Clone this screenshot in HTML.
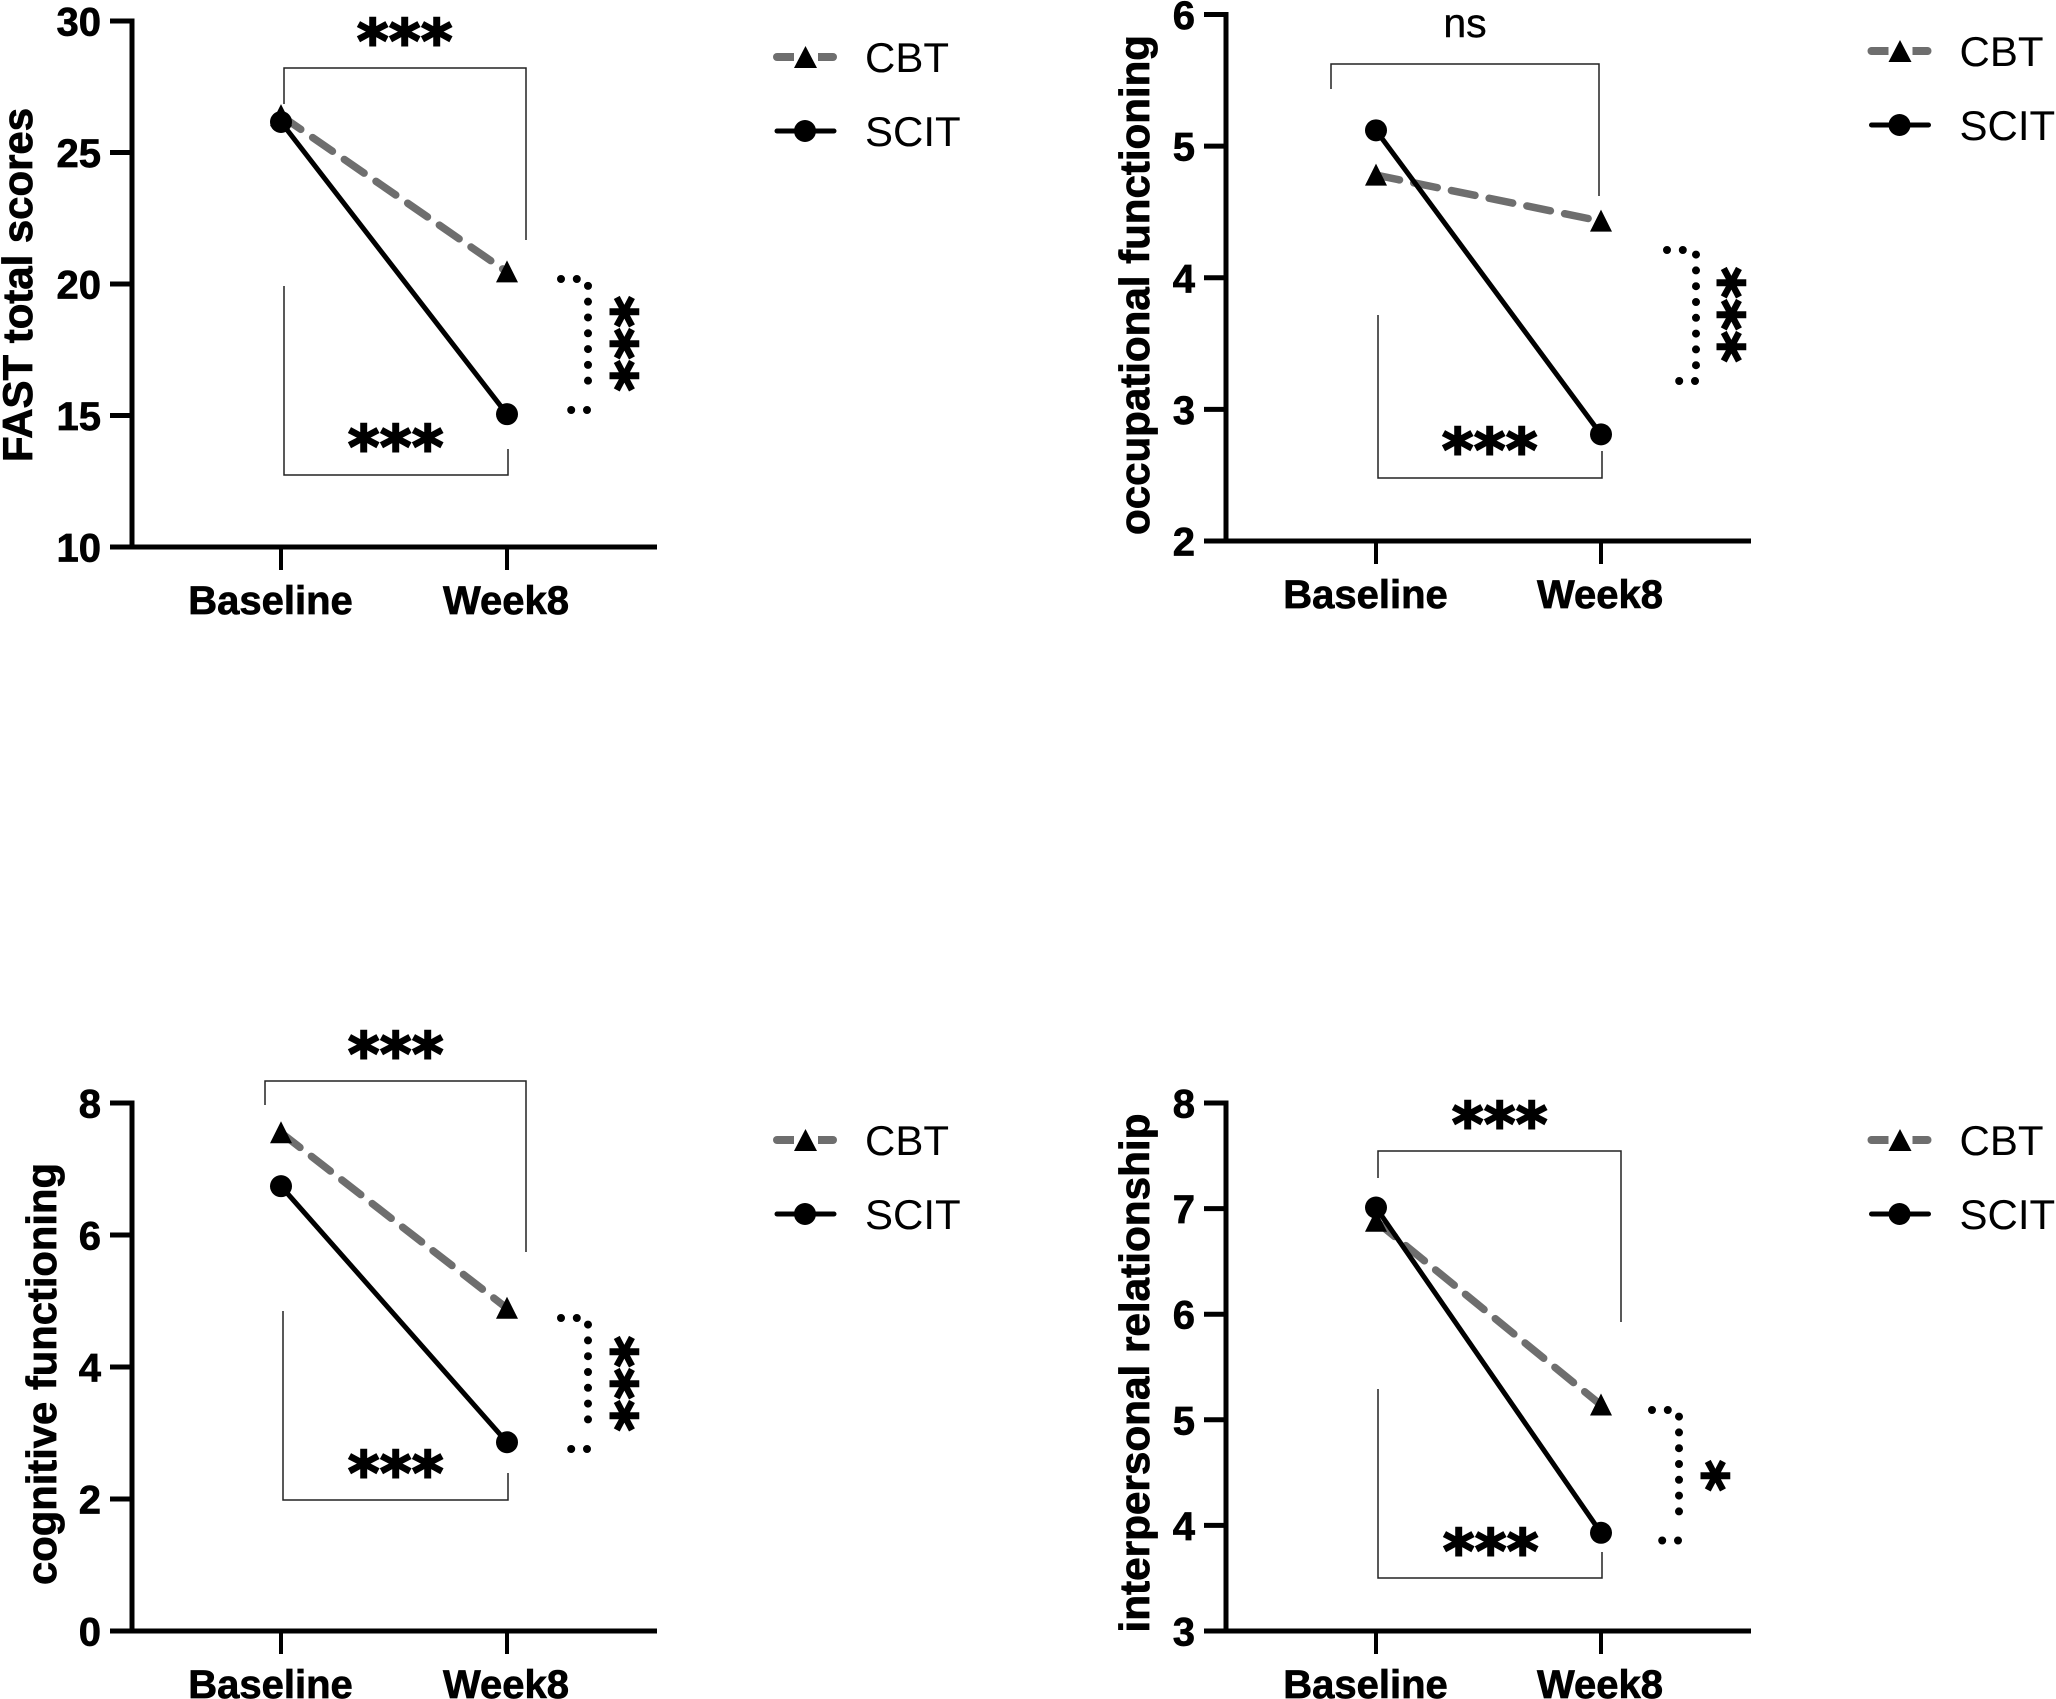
<!DOCTYPE html>
<html lang="en">
<head>
<meta charset="utf-8">
<title>CBT vs SCIT outcomes</title>
<style>
html,body{margin:0;padding:0;background:#fff;}
svg{display:block;}
text{font-family:"Liberation Sans",Arial,sans-serif;fill:#000;}
.tick{font-weight:700;font-size:40px;stroke:#000;stroke-width:0.7px;}
.title{font-weight:700;font-size:42px;stroke:#000;stroke-width:0.8px;}
.leg{font-size:42px;}
.stars{font-family:"DejaVu Sans",sans-serif;font-weight:700;font-size:60px;letter-spacing:0.6px;stroke:#000;stroke-width:2px;}
.br{fill:none;stroke:#222;stroke-width:1.5;}
.dots{fill:none;stroke:#000;stroke-width:8;stroke-linecap:round;stroke-dasharray:0 15.8;}
</style>
</head>
<body>
<svg id="chart" xmlns="http://www.w3.org/2000/svg" width="2056" height="1699" viewBox="0 0 2056 1699">
<rect width="2056" height="1699" fill="#fff"/>

<!-- Panel 1 annotations -->
<g>
<path class="br" d="M284 104V68H526V240"/>
<path class="br" d="M284 286V475H508V449"/>
<text class="stars" x="405" y="62" text-anchor="middle">***</text>
<text class="stars" x="396" y="468" text-anchor="middle">***</text>
<path class="dots" d="M561 279H581Q588 279 588 284V396"/>
<path class="dots" d="M587 410H571"/>
<text class="stars" x="625" y="375" text-anchor="middle" transform="rotate(90 625 344)">***</text>
</g>

<!-- Panel 2 annotations -->
<g>
<path class="br" d="M1331 89V64H1599V196"/>
<path class="br" d="M1378 315V478H1602V451"/>
<text x="1465" y="37" text-anchor="middle" font-size="41" stroke="#000" stroke-width="0.4">ns</text>
<text class="stars" x="1490" y="471" text-anchor="middle">***</text>
<path class="dots" d="M1667 250H1689Q1696 250 1696 254V368"/>
<path class="dots" d="M1695 381H1679"/>
<text class="stars" x="1732" y="346" text-anchor="middle" transform="rotate(90 1732 315)">***</text>
</g>

<!-- Panel 3 annotations -->
<g>
<path class="br" d="M265 1105V1081H526V1252"/>
<path class="br" d="M283 1311V1500H508V1473"/>
<text class="stars" x="396" y="1075" text-anchor="middle">***</text>
<text class="stars" x="396" y="1494" text-anchor="middle">***</text>
<path class="dots" d="M561 1318H581Q588 1318 588 1322V1435"/>
<path class="dots" d="M587 1449H571"/>
<text class="stars" x="625" y="1415" text-anchor="middle" transform="rotate(90 625 1384)">***</text>
</g>

<!-- Panel 4 annotations -->
<g>
<path class="br" d="M1378 1178V1151H1621V1322"/>
<path class="br" d="M1378 1389V1578H1602V1552"/>
<text class="stars" x="1500" y="1145" text-anchor="middle">***</text>
<text class="stars" x="1491" y="1572" text-anchor="middle">***</text>
<path class="dots" d="M1652 1410H1672Q1679 1410 1679 1414V1527"/>
<path class="dots" d="M1678 1540.5H1662"/>
<text class="stars" x="1716" y="1507" text-anchor="middle" transform="rotate(90 1716 1476)">*</text>
</g>

<!-- Legends -->
<g transform="translate(0,0)">
<g><line x1="777" y1="57" x2="833" y2="57" stroke="#6e6e6e" stroke-width="8" stroke-linecap="round"/><rect x="794" y="50" width="24" height="14" fill="#fff"/><polygon points="805.5,46 817,68 794,68" fill="#000"/><text class="leg" x="865" y="72">CBT</text></g>
<g><line x1="777" y1="131" x2="834" y2="131" stroke="#000" stroke-width="5" stroke-linecap="round"/><circle cx="805" cy="131" r="11" fill="#000"/><text class="leg" x="865" y="146">SCIT</text></g>
</g>
<g transform="translate(1094.5,-6)">
<g><line x1="777" y1="57" x2="833" y2="57" stroke="#6e6e6e" stroke-width="8" stroke-linecap="round"/><rect x="794" y="50" width="24" height="14" fill="#fff"/><polygon points="805.5,46 817,68 794,68" fill="#000"/><text class="leg" x="865" y="72">CBT</text></g>
<g><line x1="777" y1="131" x2="834" y2="131" stroke="#000" stroke-width="5" stroke-linecap="round"/><circle cx="805" cy="131" r="11" fill="#000"/><text class="leg" x="865" y="146">SCIT</text></g>
</g>
<g transform="translate(0,1083)">
<g><line x1="777" y1="57" x2="833" y2="57" stroke="#6e6e6e" stroke-width="8" stroke-linecap="round"/><rect x="794" y="50" width="24" height="14" fill="#fff"/><polygon points="805.5,46 817,68 794,68" fill="#000"/><text class="leg" x="865" y="72">CBT</text></g>
<g><line x1="777" y1="131" x2="834" y2="131" stroke="#000" stroke-width="5" stroke-linecap="round"/><circle cx="805" cy="131" r="11" fill="#000"/><text class="leg" x="865" y="146">SCIT</text></g>
</g>
<g transform="translate(1094.5,1083)">
<g><line x1="777" y1="57" x2="833" y2="57" stroke="#6e6e6e" stroke-width="8" stroke-linecap="round"/><rect x="794" y="50" width="24" height="14" fill="#fff"/><polygon points="805.5,46 817,68 794,68" fill="#000"/><text class="leg" x="865" y="72">CBT</text></g>
<g><line x1="777" y1="131" x2="834" y2="131" stroke="#000" stroke-width="5" stroke-linecap="round"/><circle cx="805" cy="131" r="11" fill="#000"/><text class="leg" x="865" y="146">SCIT</text></g>
</g>
</svg>

<script>
const categories = ['Baseline', 'Week8'];

const fastTicks = [10, 15, 20, 25, 30];
const fastCBT = [26.4, 20.46];
const fastSCIT = [26.16, 15.05];

const occupationalTicks = [2, 3, 4, 5, 6];
const occupationalCBT = [4.78, 4.43];
const occupationalSCIT = [5.12, 2.81];

const cognitiveTicks = [0, 2, 4, 6, 8];
const cognitiveCBT = [7.55, 4.89];
const cognitiveSCIT = [6.74, 2.86];

const interpersonalTicks = [3, 4, 5, 6, 7, 8];
const interpersonalCBT = [6.88, 5.14];
const interpersonalSCIT = [7.01, 3.93];

const svgNS = 'http://www.w3.org/2000/svg';
const root = document.getElementById('chart');

function make(parent, tag, attrs, content) {
  const el = document.createElementNS(svgNS, tag);
  for (const k in attrs) el.setAttribute(k, attrs[k]);
  if (content !== undefined) el.textContent = content;
  parent.appendChild(el);
  return el;
}

function drawPanel(g, ticks, cbt, scit, title) {
  const domainMin = ticks[0];
  const domainMax = ticks[ticks.length - 1];
  const yScale = function (v) {
    return g.bottom - (v - domainMin) / (domainMax - domainMin) * (g.bottom - g.top);
  };
  const xScale = function (i) {
    return g.xFirst + i * (g.xLast - g.xFirst) / (categories.length - 1);
  };

  const panel = make(root, 'g', {});
  
  

  const yAxis = make(panel, 'line', {x1: g.axisX, x2: g.axisX, y1: g.top - 2.5, y2: g.bottom + 2.5, stroke: '#000', 'stroke-width': 5});
  
  

  const xAxis = make(panel, 'line', {x1: g.axisX - 22, x2: g.axisEnd, y1: g.bottom, y2: g.bottom, stroke: '#000', 'stroke-width': 5});
  
  

  ticks.forEach(function (t) {
    const y = yScale(t);
    const mark = make(panel, 'line', {x1: g.axisX - 22, x2: g.axisX, y1: y, y2: y, stroke: '#000', 'stroke-width': 5});
    
    
    const label = make(panel, 'text', {class: 'tick', x: g.axisX - 31, y: y + 14.5, 'text-anchor': 'end'}, String(t));
    
    
  });

  categories.forEach(function (c, i) {
    const x = xScale(i);
    const mark = make(panel, 'line', {x1: x, x2: x, y1: g.bottom, y2: g.bottom + 23, stroke: '#000', 'stroke-width': 4});
    
    
    const label = make(panel, 'text', {class: 'tick', x: x + (i === 0 ? -10.5 : -1), y: g.bottom + 67, 'text-anchor': 'middle'}, c);
    
    
  });

  const yTitle = make(panel, 'text', {
    class: 'title', 'text-anchor': 'middle', x: 0, y: 0,
    textLength: title.length, lengthAdjust: 'spacingAndGlyphs',
    transform: 'translate(' + title.x + ',' + title.y + ') rotate(-90)'
  }, title.text);
  
  

  const cbtLine = make(panel, 'line', {
    x1: xScale(0), y1: yScale(cbt[0]), x2: xScale(1), y2: yScale(cbt[1]),
    stroke: '#6e6e6e', 'stroke-width': 7.5, 'stroke-linecap': 'round', 'stroke-dasharray': '24 14.5'
  });
  
  

  cbt.forEach(function (v, i) {
    const x = xScale(i), y = yScale(v);
    const tri = make(panel, 'polygon', {
      points: x + ',' + (y - 11.5) + ' ' + (x + 11) + ',' + (y + 10.5) + ' ' + (x - 11) + ',' + (y + 10.5),
      fill: '#000'
    });
    
    
  });

  const scitLine = make(panel, 'line', {
    x1: xScale(0), y1: yScale(scit[0]), x2: xScale(1), y2: yScale(scit[1]),
    stroke: '#000', 'stroke-width': 5
  });
  
  

  scit.forEach(function (v, i) {
    const dot = make(panel, 'circle', {cx: xScale(i), cy: yScale(v), r: 11, fill: '#000'});
    
    
  });
}

drawPanel({axisX: 132, axisEnd: 657, xFirst: 281, xLast: 507, top: 21, bottom: 547},
  fastTicks, fastCBT, fastSCIT,
  {name: 'fast', text: 'FAST total scores', x: 32, y: 285, length: 354});
drawPanel({axisX: 1226, axisEnd: 1751, xFirst: 1376, xLast: 1601, top: 14.5, bottom: 541},
  occupationalTicks, occupationalCBT, occupationalSCIT,
  {name: 'occupational', text: 'occupational functioning', x: 1149, y: 285, length: 500});
drawPanel({axisX: 132, axisEnd: 657, xFirst: 281, xLast: 507, top: 1103, bottom: 1631},
  cognitiveTicks, cognitiveCBT, cognitiveSCIT,
  {name: 'cognitive', text: 'cognitive functioning', x: 56, y: 1374, length: 422});
drawPanel({axisX: 1226, axisEnd: 1751, xFirst: 1376, xLast: 1601, top: 1103, bottom: 1631},
  interpersonalTicks, interpersonalCBT, interpersonalSCIT,
  {name: 'interpersonal', text: 'interpersonal relationship', x: 1149, y: 1373, length: 519});
</script>
</body>
</html>
